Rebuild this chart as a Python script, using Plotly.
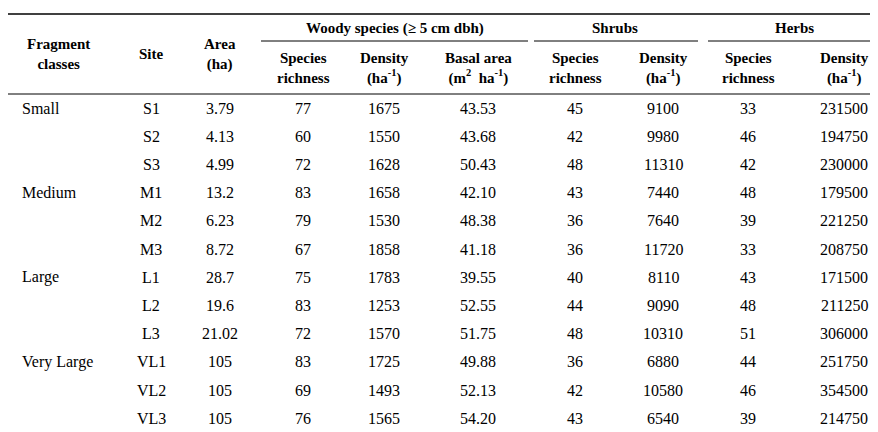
import plotly.graph_objects as go

classes = ["Small", "", "", "Medium", "", "", "Large", "", "", "Very Large", "", ""]
sites = ["S1","S2","S3","M1","M2","M3","L1","L2","L3","VL1","VL2","VL3"]
area = ["3.79","4.13","4.99","13.2","6.23","8.72","28.7","19.6","21.02","105","105","105"]
woody_sr = [77,60,72,83,79,67,75,83,72,83,69,76]
woody_den = [1675,1550,1628,1658,1530,1858,1783,1253,1570,1725,1493,1565]
basal = ["43.53","43.68","50.43","42.10","48.38","41.18","39.55","52.55","51.75","49.88","52.13","54.20"]
shrub_sr = [45,42,48,43,36,36,40,44,48,36,42,43]
shrub_den = [9100,9980,11310,7440,7640,11720,8110,9090,10310,6880,10580,6540]
herb_sr = [33,46,42,48,39,33,43,48,51,44,46,39]
herb_den = [231500,194750,230000,179500,221250,208750,171500,211250,306000,251750,354500,214750]

W, H = 878, 432
FONT = "Liberation Serif, Times New Roman, serif"
fig = go.Figure()
ann = []
def t(x, y, s, bold=False, anchor="center", size=16):
    ann.append(dict(x=x, y=y, text=f"<b>{s}</b>" if bold else s, showarrow=False,
                    xanchor=anchor, yanchor="middle",
                    font=dict(family=FONT, size=size, color="black")))

# headers
t(50, 46, "Fragment<br>classes", True, size=15)
t(143, 46, "Site", True, size=15)
t(212, 46, "Area<br>(ha)", True, size=15)
t(387, 20, "Woody species (≥ 5 cm dbh)", True, size=15)
t(607, 20, "Shrubs", True, size=15)
t(786, 20, "Herbs", True, size=15)
sub = [(295, "Species<br>richness"), (376, "Density<br>(ha<sup>-1</sup>)"), (470, "Basal area<br>(m<sup>2</sup>  ha<sup>-1</sup>)"),
       (567, "Species<br>richness"), (655, "Density<br>(ha<sup>-1</sup>)"),
       (740, "Species<br>richness"), (836, "Density<br>(ha<sup>-1</sup>)")]
for x, s in sub:
    t(x, 60, s, True, size=15)

y0, dy = 100, 28.2
for i in range(len(sites)):
    y = y0 + i * dy
    if classes[i]:
        t(12, y, classes[i], anchor="left")
    t(143, y, sites[i])
    t(212, y, area[i])
    t(295, y, str(woody_sr[i]))
    t(376, y, str(woody_den[i]))
    t(470, y, basal[i])
    t(567, y, str(shrub_sr[i]))
    t(655, y, str(shrub_den[i]))
    t(740, y, str(herb_sr[i]))
    t(836, y, str(herb_den[i]))

shapes = []
def line(x0, x1, y, w=1.5):
    shapes.append(dict(type="line", xref="x", yref="y", x0=x0, x1=x1, y0=y, y1=y,
                       line=dict(color="black", width=w)))
line(0, 878, 6, 1.5)
line(253, 520, 33, 1)
line(526, 690, 33, 1)
line(700, 874, 33, 1)
line(0, 878, 86, 1)
line(0, 878, 425, 1.5)

fig.update_layout(width=W, height=H, margin=dict(l=0, r=0, t=0, b=0),
                  paper_bgcolor="white", plot_bgcolor="white",
                  xaxis=dict(range=[0, W], visible=False, fixedrange=True),
                  yaxis=dict(range=[H, 0], visible=False, fixedrange=True),
                  annotations=ann, shapes=shapes, showlegend=False)
fig.write_html("out.html")
